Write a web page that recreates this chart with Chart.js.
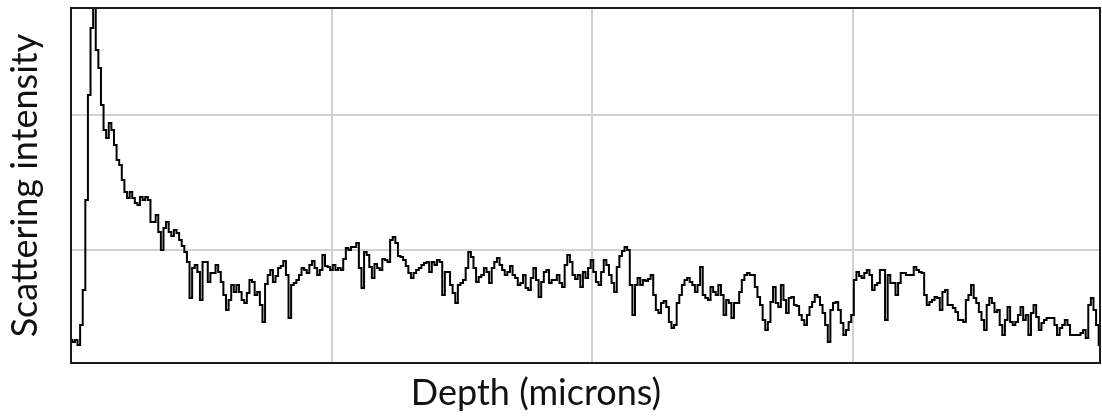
<!DOCTYPE html>
<html>
<head>
<meta charset="utf-8">
<script src="https://cdn.jsdelivr.net/npm/chart.js@4/dist/chart.umd.min.js"></script>
<style>
html, body { margin: 0; padding: 0; background: #fff; }
#wrap { width: 1102px; height: 418px; position: relative; }
</style>
</head>
<body>
<div id="wrap"><canvas id="c"></canvas></div>
<script>
// depth sampling (microns) and scattering intensity (arbitrary units)
var depthStep = 1;
var intensity = [
  23, 21, 23, 18, 38, 73, 163, 268, 335, 375, 313, 295, 258, 233, 225, 240, 233, 218, 203, 198,
  183, 171, 165, 171, 165, 160, 158, 166, 163, 166, 163, 141, 141, 148, 131, 113, 135, 141, 131, 127,
  133, 130, 123, 117, 111, 101, 65, 95, 98, 91, 63, 101, 101, 81, 90, 90, 98, 91, 81, 68,
  53, 63, 78, 71, 78, 71, 63, 60, 70, 83, 81, 68, 71, 58, 41, 79, 88, 93, 81, 87,
  95, 97, 102, 88, 45, 78, 80, 83, 88, 95, 93, 90, 98, 102, 95, 88, 93, 108, 97, 96,
  93, 98, 93, 95, 93, 104, 115, 113, 116, 116, 120, 95, 75, 111, 108, 96, 85, 99, 95, 93,
  104, 103, 101, 123, 126, 120, 107, 106, 103, 97, 90, 85, 90, 93, 95, 98, 100, 101, 91, 101,
  98, 103, 101, 68, 91, 91, 78, 70, 60, 78, 80, 83, 95, 111, 106, 95, 81, 86, 88, 95,
  91, 80, 95, 101, 105, 98, 93, 88, 91, 97, 88, 85, 78, 80, 88, 75, 73, 85, 95, 83,
  66, 81, 91, 93, 80, 83, 83, 88, 80, 76, 98, 108, 101, 88, 84, 88, 76, 91, 85, 95,
  103, 91, 81, 78, 91, 103, 98, 88, 80, 71, 96, 107, 112, 116, 113, 78, 48, 78, 85, 78,
  83, 82, 84, 88, 68, 53, 50, 60, 62, 56, 41, 35, 38, 60, 68, 78, 83, 85, 81, 78,
  71, 78, 96, 68, 65, 63, 76, 71, 68, 78, 68, 48, 63, 60, 45, 60, 60, 71, 83, 88,
  90, 88, 88, 76, 66, 58, 43, 33, 41, 61, 76, 60, 56, 78, 63, 50, 65, 66, 58, 57,
  48, 43, 38, 48, 56, 61, 68, 66, 58, 50, 38, 21, 53, 60, 61, 53, 40, 28, 33, 41,
  48, 83, 91, 87, 85, 90, 93, 88, 73, 78, 80, 93, 93, 43, 88, 80, 80, 68, 80, 90,
  90, 88, 88, 88, 96, 93, 91, 90, 68, 58, 61, 63, 66, 65, 53, 71, 73, 58, 58, 55,
  51, 43, 43, 41, 63, 68, 78, 65, 60, 51, 43, 33, 58, 65, 60, 51, 53, 38, 28, 43,
  56, 41, 38, 41, 48, 56, 43, 48, 28, 50, 58, 46, 33, 40, 43, 45, 45, 45, 38, 28,
  35, 38, 43, 38, 28, 28, 28, 28, 30, 33, 25, 58, 65, 53, 38, 18
];
var xTicks = [0, 100, 200, 300];
var yTicks = [113, 248];
var xMax = 395;
var yMax = 355;

var points = intensity.map(function(v, i) {
  return { x: i * depthStep, y: v };
});

var frame = {
  id: 'frame',
  afterDraw: function(chart) {
    var ctx = chart.ctx, a = chart.chartArea;
    ctx.save();
    ctx.strokeStyle = '#1a1a1a';
    ctx.lineWidth = 2;
    ctx.strokeRect(a.left, a.top, a.right - a.left, a.bottom - a.top);

    ctx.fillStyle = '#111';
    ctx.font = '36px Lato';
    ctx.textAlign = 'center';
    ctx.textBaseline = 'middle';
    ctx.fillText('Depth (microns)', 536, 393);

    ctx.translate(25, (a.top + a.bottom) / 2);
    ctx.rotate(-Math.PI / 2);
    ctx.fillText('Scattering intensity', 0, 0);
    ctx.restore();
  }
};

new Chart(document.getElementById('c'), {
  type: 'line',
  data: {
    datasets: [{
      data: points,
      borderColor: '#000',
      borderWidth: 2,
      pointRadius: 0,
      stepped: 'middle',
      fill: false
    }]
  },
  options: {
    responsive: true,
    maintainAspectRatio: false,
    animation: false,
    layout: { padding: { left: 71, top: 8, right: 2, bottom: 55 } },
    plugins: { legend: { display: false }, tooltip: { enabled: false } },
    scales: {
      x: {
        type: 'linear',
        min: 0,
        max: xMax,
        afterBuildTicks: function(scale) {
          scale.ticks = xTicks.map(function(v) { return { value: v }; });
        },
        ticks: { display: false },
        grid: { color: '#d2d2d2', lineWidth: 2, drawTicks: false },
        border: { display: false }
      },
      y: {
        min: 0,
        max: yMax,
        afterBuildTicks: function(scale) {
          scale.ticks = yTicks.map(function(v) { return { value: v }; });
        },
        ticks: { display: false },
        grid: { color: '#d2d2d2', lineWidth: 2, drawTicks: false },
        border: { display: false }
      }
    }
  },
  plugins: [frame]
});
</script>
</body>
</html>
